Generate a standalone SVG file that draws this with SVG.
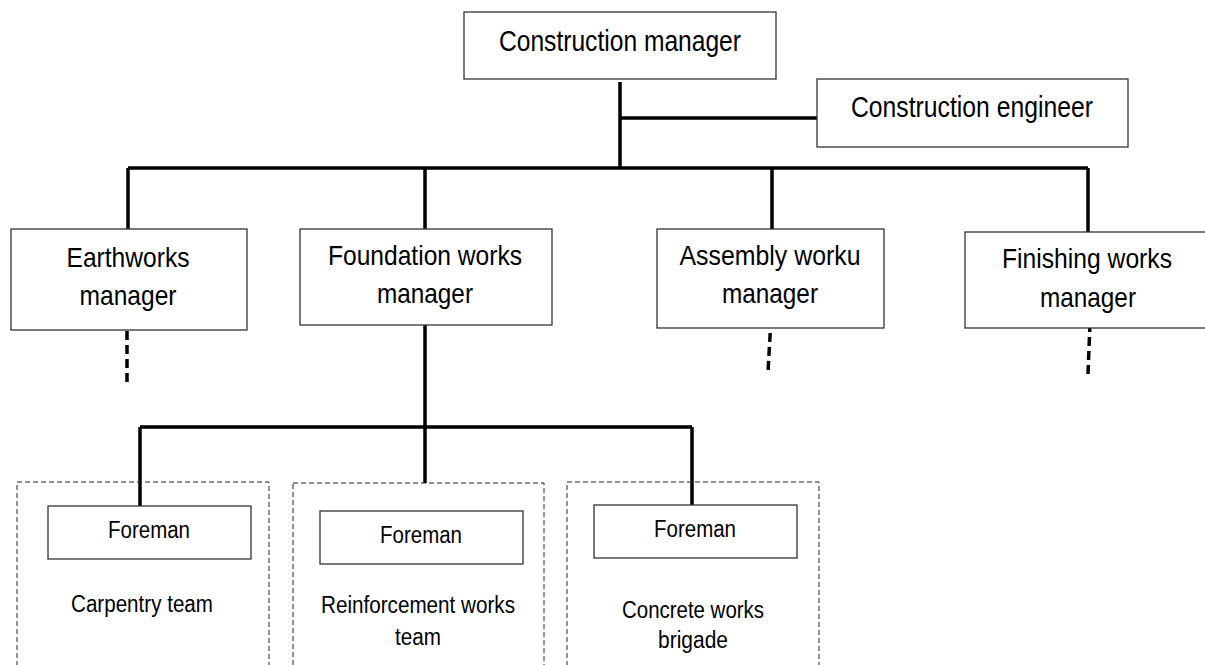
<svg xmlns="http://www.w3.org/2000/svg" width="1205" height="665" viewBox="0 0 1205 665">
<style>
.box{fill:#fff;stroke:#333;stroke-width:1.3}
.grp{fill:none;stroke:#222;stroke-width:1;stroke-dasharray:5 3}
.ln{fill:none;stroke:#000;stroke-width:3.5}
.dl{fill:none;stroke:#000;stroke-width:3.5;stroke-dasharray:9 5}
text{font-family:"Liberation Sans",Arial,sans-serif;fill:#000;text-anchor:middle}
.big{font-size:28px}
.sm{font-size:23px}
</style>
<rect width="1205" height="665" fill="#fff"/>
<g id="connectors">
<path class="ln" d="M620 82V168M620 118H817M128 168H1088M128 168V229M425 168V229M772 168V229M1088 168V232"/>
<path class="ln" d="M425 325V427M140 427H692M140 427V506M425 427V483M692 427V505"/>
<path class="dl" d="M127 331V384M771 319L768 372M1090 323L1088 374"/>
</g>
<g id="construction-manager">
<rect class="box" x="464" y="12" width="312" height="67"/>
<text x="620" y="51" style="font-size:29px" textLength="242" lengthAdjust="spacingAndGlyphs">Construction manager</text>
</g>
<g id="construction-engineer">
<rect class="box" x="817" y="79" width="311" height="68"/>
<text x="972" y="117" style="font-size:29px" textLength="242" lengthAdjust="spacingAndGlyphs">Construction engineer</text>
</g>
<g id="earthworks-manager">
<rect class="box" x="11" y="229" width="236" height="101"/>
<text class="big" x="128" y="267" textLength="123" lengthAdjust="spacingAndGlyphs">Earthworks</text>
<text class="big" x="128" y="305" textLength="97" lengthAdjust="spacingAndGlyphs">manager</text>
</g>
<g id="foundation-works-manager">
<rect class="box" x="300" y="229" width="252" height="96"/>
<text class="big" x="425" y="265" textLength="194" lengthAdjust="spacingAndGlyphs">Foundation works</text>
<text class="big" x="425" y="303" textLength="96" lengthAdjust="spacingAndGlyphs">manager</text>
</g>
<g id="assembly-works-manager">
<rect class="box" x="657" y="229" width="227" height="99"/>
<text class="big" x="770" y="265" textLength="181" lengthAdjust="spacingAndGlyphs">Assembly worku</text>
<text class="big" x="770" y="303" textLength="96" lengthAdjust="spacingAndGlyphs">manager</text>
</g>
<g id="finishing-works-manager">
<rect class="box" x="965" y="232" width="245" height="96"/>
<text class="big" x="1087" y="268" textLength="170" lengthAdjust="spacingAndGlyphs">Finishing works</text>
<text class="big" x="1088" y="307" textLength="96" lengthAdjust="spacingAndGlyphs">manager</text>
</g>
<g id="carpentry-team">
<rect class="grp" x="17" y="482" width="252" height="200"/>
<rect class="box" x="48" y="506" width="203" height="53"/>
<text class="sm" x="149" y="538" textLength="82" lengthAdjust="spacingAndGlyphs">Foreman</text>
<text class="sm" x="142" y="612" textLength="142" lengthAdjust="spacingAndGlyphs">Carpentry team</text>
</g>
<g id="reinforcement-works-team">
<rect class="grp" x="293" y="483" width="251" height="200"/>
<rect class="box" x="320" y="511" width="203" height="53"/>
<text class="sm" x="421" y="543" textLength="82" lengthAdjust="spacingAndGlyphs">Foreman</text>
<text class="sm" x="418" y="613" textLength="194" lengthAdjust="spacingAndGlyphs">Reinforcement works</text>
<text class="sm" x="418" y="645" textLength="46" lengthAdjust="spacingAndGlyphs">team</text>
</g>
<g id="concrete-works-brigade">
<rect class="grp" x="567" y="482" width="252" height="200"/>
<rect class="box" x="594" y="505" width="203" height="53"/>
<text class="sm" x="695" y="537" textLength="82" lengthAdjust="spacingAndGlyphs">Foreman</text>
<text class="sm" x="693" y="618" textLength="142" lengthAdjust="spacingAndGlyphs">Concrete works</text>
<text class="sm" x="693" y="648" textLength="70" lengthAdjust="spacingAndGlyphs">brigade</text>
</g>
</svg>
